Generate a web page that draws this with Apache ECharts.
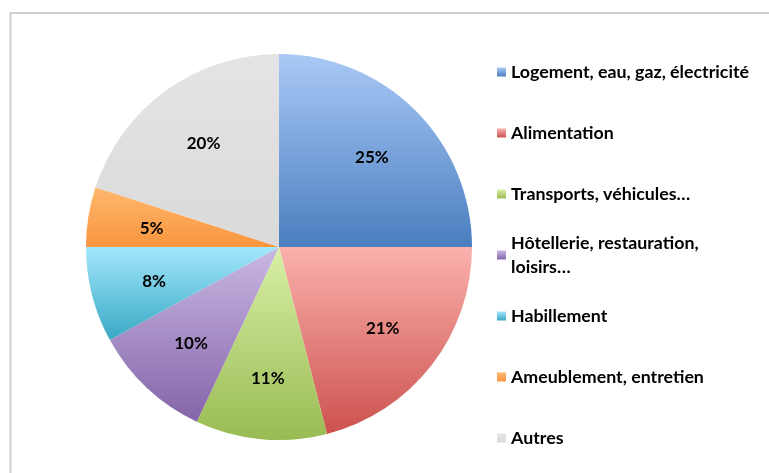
<!DOCTYPE html>
<html>
<head>
<meta charset="utf-8">
<script src="https://cdn.jsdelivr.net/npm/echarts@6/dist/echarts.min.js"></script>
<style>
html,body{margin:0;padding:0;background:#fff;}
#chart{width:769px;height:473px;}
</style>
</head>
<body>
<div id="chart"></div>
<script>
const categories = [
  'Logement, eau, gaz, électricité',
  'Alimentation',
  'Transports, véhicules…',
  'Hôtellerie, restauration,\nloisirs…',
  'Habillement',
  'Ameublement, entretien',
  'Autres'
];
const values = [25, 21, 11, 10, 8, 5, 20];
const topColors = ['#aac9f6', '#fbb1ad', '#d9efa6', '#c9b8e3', '#a3e8fd', '#ffb76e', '#e4e4e4'];
const bottomColors = ['#4a7ebf', '#cc524e', '#99bb53', '#8464a9', '#38a8c4', '#f8963e', '#dadada'];

const FONT = 'Lato, "Open Sans", sans-serif';

function grad(i) {
  return new echarts.graphic.LinearGradient(0, 0, 0, 1, [
    { offset: 0, color: topColors[i] },
    { offset: 1, color: bottomColors[i] }
  ]);
}

const pieData = categories.map((c, i) => ({
  name: c,
  value: values[i],
  itemStyle: { color: grad(i) }
}));
const labelData = categories.map((c, i) => ({
  name: c,
  value: values[i],
  itemStyle: { color: 'rgba(0,0,0,0)' }
}));

const legendCenters = [72, 133, 194, 255, 316, 377, 438];
const legends = categories.map((c, i) => {
  const twoLine = c.indexOf('\n') >= 0;
  return {
    orient: 'vertical',
    left: 497,
    top: legendCenters[i] - (twoLine ? 36 : 12),
    padding: 0,
    itemWidth: 9,
    itemHeight: 9,
    itemGap: 0,
    selectedMode: false,
    icon: 'rect',
    data: [c],
    textStyle: {
      color: '#000',
      fontFamily: FONT,
      fontWeight: 'bold',
      fontSize: 17.8,
      lineHeight: 24,
      padding: twoLine ? [24, 0, 0, 0] : 0
    }
  };
});

const chart = echarts.init(document.getElementById('chart'), null, { renderer: 'canvas' });
chart.setOption({
  animation: false,
  backgroundColor: '#fff',
  graphic: [{
    type: 'rect',
    shape: { x: 10.5, y: 13, width: 820, height: 520 },
    style: { fill: 'none', stroke: '#d0d0d0', lineWidth: 2 },
    silent: true
  }],
  legend: legends,
  series: [
    {
      type: 'pie',
      center: [279, 247],
      radius: [0, 193],
      startAngle: 90,
      clockwise: true,
      label: { show: false },
      labelLine: { show: false },
      emphasis: { disabled: true },
      itemStyle: { borderWidth: 0 },
      data: pieData
    },
    {
      type: 'pie',
      center: [280, 249],
      radius: [0, 254],
      startAngle: 90,
      clockwise: true,
      silent: true,
      z: 5,
      emphasis: { disabled: true },
      label: {
        show: true,
        position: 'inside',
        formatter: '{c}%',
        color: '#000',
        fontFamily: FONT,
        fontWeight: 'bold',
        fontSize: 17
      },
      labelLine: { show: false },
      data: labelData
    }
  ]
});
</script>
</body>
</html>
